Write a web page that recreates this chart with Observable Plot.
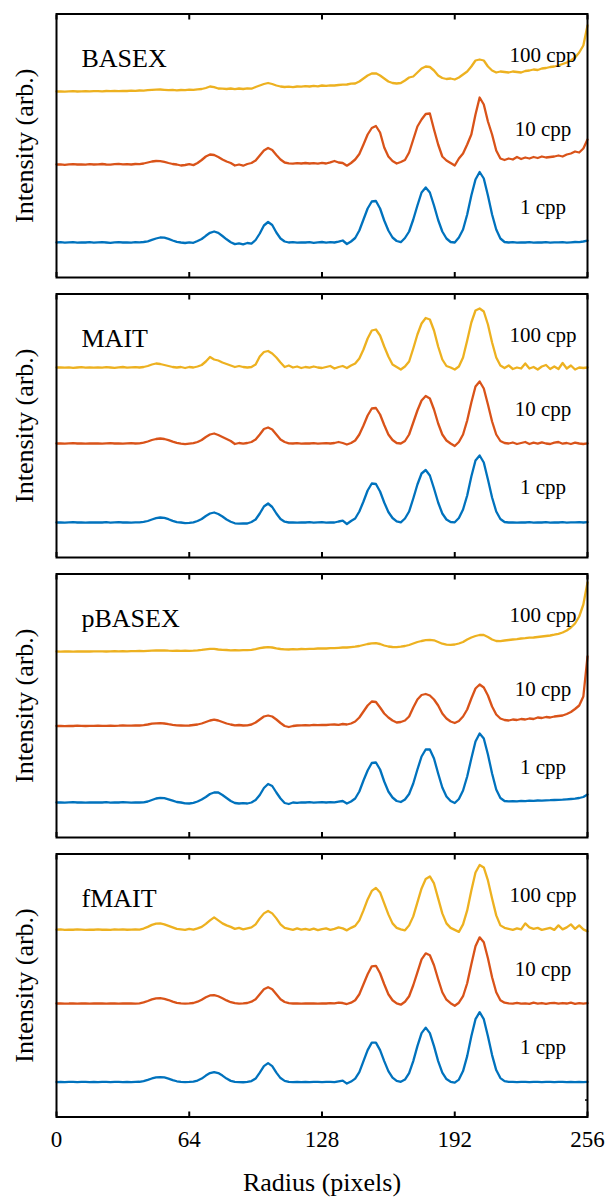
<!DOCTYPE html>
<html>
<head>
<meta charset="utf-8">
<script src="https://cdn.jsdelivr.net/npm/d3@7"></script>
<script src="https://cdn.jsdelivr.net/npm/@observablehq/plot@0.6"></script>
<style>
  html, body { margin: 0; padding: 0; background: #fff; }
  #chart { width: 608px; }
  #chart svg { display: block; }
</style>
</head>
<body>
<div id="chart"></div>
<script>
// ---------- data ----------
const methods = ["BASEX", "MAIT", "pBASEX", "fMAIT"];
const cppLabels = ["1 cpp", "10 cpp", "100 cpp"];
const seriesOffsets = [0, 78, 152];
const seriesColors = ["#0072BD", "#D95319", "#EDB120"];
const xTicks = [0, 64, 128, 192, 256];
const rightTicks = [-18];
const radius = d3.range(0, 257, 2); // sample radii 0..256

const basex1 = [
  0,0.3,-0.2,0.1,0.4,-0.1,0.2,0,0.3,-0.2,
  0.1,0.3,0,-0.3,0.2,0.4,0,0.1,-0.2,0.3,
  0.2,0.5,1.2,2.6,4,5,4.8,3.6,2,0.6,
  0,-0.5,0.2,-0.3,1.5,3.5,6.7,9.7,11,9.7,
  6.5,3.2,0.3,-1.6,-0.8,-1.8,-0.5,-1.2,2.5,9,
  17,20.5,17.5,10,4,1,0,0.3,-0.2,0.2,
  0,0.4,-0.3,0.2,0.5,-0.2,0.3,0,0.8,2,
  -1.5,1,4.5,12,23,34,41,41.5,34,22,
  12,5,1.5,0.3,4.5,11,23,37,50,55,
  50,37,22.5,11,4,0.5,0,5,13,28,
  47,63,70.5,64,47,28,13,4,0.5,0,
  0.3,-0.2,0.2,0,0.4,-0.1,0.2,0,0.3,-0.2,
  0.2,0.1,0.4,-0.1,0.2,0.5,0.3,1,1.8
];
const basex10 = [
  0,0.2,-0.3,0.1,0.4,0,0.2,-0.2,0.3,0,
  0.2,0.5,0,-0.2,0.3,0.6,0.1,0.4,0,0.5,
  0.4,1,2,3,3.5,3.3,2.6,1.5,0.5,0,
  -1,-0.5,0.3,-0.6,1.5,4.5,8,10,9.5,7.5,
  5,3,1.5,-1,0,-1.2,0.5,1.5,4,9,
  14,16.5,14.5,9.5,5,2,1.2,0.8,1.3,1,
  1.5,1,1.4,0.8,1.6,1,2.2,3.5,2,1.5,
  -1.2,1.5,5,10.5,20,30,36.5,38.5,32,17,
  8,3.5,1,2.5,4.5,12,25,38,45,50.5,
  51,35,20,8,4,1.5,-1,6,11,20,
  30,50,67,60,43,30,14,6,4.5,6,
  5,7.5,5.5,7,6,7.5,6.5,8,7,7.5,
  8,9,8,10,11,13,12,16,25
];
const basex100 = [
  -1,-0.8,-1.1,-0.9,-0.7,-1,-0.8,-0.6,-0.9,-0.7,
  -0.6,-0.8,-0.5,-0.7,-0.4,-0.6,-0.3,-0.5,-0.2,-0.3,
  0,-0.2,0.3,0.6,0.8,1,0.7,0.4,0.6,0.2,
  0.5,0.3,0.8,0.6,1.2,1.5,2.5,4,3.3,2,
  1.8,1.5,2,1.4,2,1.5,2.2,1.8,3.5,5,
  6.5,7.5,6.5,5,4,3.5,3.8,3.4,4,3.8,
  4.4,4,4.6,4.2,5,4.6,5.2,5,5.5,5.8,
  6,6.8,7,9,12,15,17,17.2,15,12,
  9,7.5,7,7.5,10,13,14,18,22,24,
  23.5,20,15,12.5,11.5,12,11,13,16,19,
  24,30,31,30,24,20,18,19,18.5,18,
  19,18.5,18,19.5,20,21,20.5,22,22.5,23.5,
  24,25,26.5,28,30,33,38,45,65
];

const mait1 = [
  0,0.2,-0.1,0.1,0.3,0,0.2,-0.2,0.1,0,
  0.2,0,0.3,-0.1,0.1,0.3,0,0.2,-0.1,0.2,
  0.1,0.6,1.5,3,4.3,5,4.6,3.3,1.6,0.4,
  0,-0.6,-0.3,0.2,1.5,3.5,6.5,9,10,8.5,
  6,3,0.8,-0.8,-1.2,-0.8,-1,0.5,3,9,
  16,19,15.5,9,3.5,0.8,0,0.2,-0.1,0.2,
  0,0.3,-0.2,0.1,0.3,-0.1,0.2,0,1,1.8,
  -1.5,1.5,4,11,21,32,39,38.5,31,20,
  10.5,4.5,1.2,0.2,4,11,24,38,49,52.5,
  47,34,20,9,3,0.5,0.2,4.5,13,27,
  46,62,67,60,43,25,11,3.5,0.5,0,
  0.2,-0.1,0.2,0,0.3,-0.1,0.2,0,0.3,-0.1,
  0.2,0,0.3,-0.1,0.2,0.1,0.3,0,0.4
];
const mait10 = [
  1,1.2,0.9,1.1,1.3,1,1.2,0.8,1.1,1,
  1.2,0.9,1.1,1.3,1,1.2,0.9,1.1,1.3,1,
  1.2,1.8,3,4.5,5.5,6,5.5,4.3,2.8,1.6,
  0.8,0.3,0.8,1.3,2.5,4.5,7.5,10,11,9.5,
  7.5,5.5,3.5,0.5,1.5,0.8,1.5,2.5,5,10,
  15.5,17,15,10,5,2.5,1.2,1,1.3,0.9,
  1.2,1,1.3,0.8,1.1,1.3,1,1.5,2.5,1.5,
  0,1.5,4,10,19,29,36,36.5,30,19.5,
  10,4.5,1.5,1,3.5,10,22,34,44,48.5,
  46,35,21,10,4,1,-1.5,2.5,10,24,
  42,58,63,56,40,23,10,3.5,1.5,1,
  2,0.5,1.5,2.5,0.5,1.8,0.8,2.2,1,0.5,
  1.8,2.5,0.8,1.5,0.5,1.8,1,0.5,1.2
];
const mait100 = [
  3,3.2,2.8,3.1,2.7,3,3.3,2.9,3.1,2.8,
  3.2,2.9,3.3,3,2.7,3.2,3.5,2.8,3.1,3.4,
  3,3.5,4.5,6,7,6.5,5.5,4.5,3.5,3,
  3.5,2.5,3.5,3,4,5.5,9,13.5,11,10,
  8,6.5,5,3.5,4.5,3.5,3,3.5,6,14,
  18.5,19.5,17,13,8,3.5,5,3,4,2.5,
  3.5,2.8,4,3,2.5,3.5,4.5,2,3.5,4.5,
  2.5,5,7,12,21,32,40,41,35,24,
  14,6,3.5,1,4,9,22,36,47,52.5,
  51,40,24,11,4.5,3,1,4,13,30,
  48,60,62,59,46,28,13,5,2.5,5,
  1.5,3,2,7,2,3.5,1,4,5.5,1.5,
  4,1.5,7.5,2,5,1,3,2.5,3
];

const pbasex1 = [
  0,0.2,-0.1,0.1,0.3,0,0.2,-0.1,0.1,0,
  0.2,0,0.3,-0.1,0.2,0,0.3,0.1,-0.2,0.1,
  0,0.2,1,2.5,4,4.7,4.3,3.2,1.8,0.5,
  0,-0.8,-1,-0.3,1,3,5.5,8.5,10,10,
  7.5,4.5,1.5,-0.5,-1,-0.6,-1,0,2.5,7.5,
  14.5,18.5,16.5,10,4,-0.5,-1.5,0,-0.3,0.2,
  0,0.3,-0.1,0.2,0.4,0,0.3,0.1,0.8,1.5,
  -1,1,4,11,22,32,39.5,40,33,21,
  11,5,1.5,0.5,3,8.5,19,33,46,53,
  53,44,29,15,6,1.5,-0.5,3.5,12,26,
  44,61,69,64,48,29,13,4.5,1.5,1.2,
  1.4,1.2,1.6,1.4,1.8,1.6,2,1.8,2.2,2.3,
  2.5,2.7,2.8,3.2,3.5,3.8,4.5,5.5,8
];
const pbasex10 = [
  -1.5,-1.3,-1.6,-1.4,-1.5,-1.2,-1.4,-1.5,-1.3,-1.4,
  -1.2,-1.4,-1.3,-1.1,-1.3,-1.2,-1,-1.2,-1.1,-0.9,
  -1,-0.6,0,0.8,1.2,1.3,1,0.3,-0.3,-0.8,
  -1,-1.2,-1,-0.5,0,1,2.5,4,4.8,4,
  2.5,1,0,-0.8,-0.5,-1,-0.8,0,2,5,
  8,9,8,5,1.5,-1.5,-2.5,-1.5,-1,-0.8,
  -0.6,-0.8,-0.4,-0.6,-0.3,-0.5,-0.2,0,-0.3,0.5,
  0,1,3,7,13,19,23,22.5,17,11,
  7,4,2,2.5,4,8,17,25,29.5,30.5,
  29,25,19,11,6,3,1.5,3.5,8,15,
  26,36,40,37,29,18,10,6,4.5,4,
  5,4.5,5.5,5,6,5.5,7,6.5,7.5,7,
  8,8.5,9,10.5,12.5,15.5,19,28,68
];
const pbasex100 = [
  -1,-1.1,-0.9,-1,-1.1,-0.9,-1,-0.9,-1,-0.8,
  -0.9,-0.8,-1,-0.8,-0.7,-0.9,-0.7,-0.8,-0.6,-0.7,
  -0.5,-0.6,-0.4,-0.2,0,0.2,0,-0.2,-0.3,-0.2,
  -0.4,-0.2,-0.3,-0.1,0.2,0.6,1.2,1.7,1.6,1,
  0.6,0.5,0.2,0.4,0.1,0.3,0.4,0.6,1.3,2.3,
  3,3.3,3,2.2,1.5,1.2,1,1.3,1.2,1.5,
  1.4,1.7,1.6,2,2.2,2,2.4,2.3,2.7,3,
  3,3.4,3.8,4.5,5.5,6.5,7.2,7.3,6.5,5,
  4,3.5,3.3,3.8,4.5,5.5,7,8.5,9.5,10.3,
  10.7,10.2,8.5,6.8,5.8,5.6,6,7,8.5,11,
  13,14.5,15.5,15.5,13.5,11,9.5,9.3,10,10.5,
  11,11.3,12,12.3,12.8,13,13.5,14,14.5,15,
  15.8,16.7,18,20,23,27,34,46,68
];

const fmait1 = [
  0,0.1,0,0.2,0.1,0,0.1,0.2,0,0.1,
  0,0.2,0.1,0,0.1,0.2,0,0.1,0,0.2,
  0.3,1,2.2,3.6,4.6,5,4.6,3.5,2,0.8,
  0.2,0,0.1,0.4,1.5,3.5,6.5,9,10,9,
  6.5,3.5,1.2,0.2,0,-0.2,0.2,1,3.5,9.5,
  16,19,16,9.5,4,1.2,0.2,0,0.1,0,
  0.1,0,0.2,0.1,0,0.1,0.2,0,0.8,1.5,
  -1.5,0.5,3.5,10,21,32,39.5,39.5,32,21,
  11,4.5,1.2,0.3,2.5,9,21,36,49,54.5,
  49,36,21,9.5,3,0.3,-0.5,2.5,11,26,
  46,63,70,63,46,27,12,4,1,0.2,
  0.1,0,0.2,0.1,0,0.2,0.1,0,0.1,0.2,
  0,0.1,0.2,0,0.1,-0.1,0.1,0,0.1
];
const fmait10 = [
  0.7,0.8,0.6,0.7,0.9,0.6,0.8,0.7,0.6,0.8,
  0.7,0.9,0.6,0.8,0.7,0.6,0.9,0.7,0.8,0.6,
  0.9,1.8,3.2,4.8,5.8,6,5.4,4.2,2.6,1.4,
  0.8,0.5,0.8,1.2,2.5,4.5,7,8.8,9.2,8,
  6,3.8,2,1,0.6,0.8,1.2,2.5,5,10,
  15,17,15,10,5,2.2,1,0.7,0.8,0.6,
  0.8,0.7,0.9,0.6,0.8,0.7,1,0.8,1.5,1.2,
  0.2,1.5,4,10,20,30,38,38.5,31,20,
  10,4,0.8,-0.5,2.5,8,19,32,45,51,
  49,39,25,12,4.5,1,-1.5,1.5,8,21,
  40,58,67,62,46,27,12,4,1.5,0.8,
  0.6,1.4,0.5,0.9,0.3,1.5,0.6,1.2,0.4,1,
  1.3,0.5,1.2,0.7,1.5,0.4,1.1,0.6,1
];
const fmait100 = [
  0.7,0.9,0.5,0.8,0.6,0.9,0.7,0.5,0.8,0.6,
  0.9,0.6,0.8,0.5,0.9,0.7,1,0.6,0.8,1,
  0.8,1.8,3.5,5.5,6.8,7,6,4.5,3,1.5,
  1,0.5,1.5,0.8,2,3.5,6.5,10,13,10,
  7,5,3.5,1.5,2.5,1,2,3,6,12,
  17,19.5,17,12,6,2.5,1.5,0.5,2,0.8,
  1.5,0.5,1.8,0.3,1.2,2,0.5,1.5,3,2,
  0,2.5,4.5,10,20,31,39.5,42.5,38,27,
  16,7,2.5,1,0,5,14,28,42,51.5,
  54,47,32,17,7,2.5,0.5,-1.5,6,20,
  40,58,65.5,63,50,32,15,5,2.5,1.5,
  0.5,2,1,7,3,1.5,2.5,0.5,1.5,2.5,
  0.5,5,1,3,6,1.5,5,1,-1
];

const panelSeries = [
  [basex1, basex10, basex100],
  [mait1, mait10, mait100],
  [pbasex1, pbasex10, pbasex100],
  [fmait1, fmait10, fmait100]
];

// ---------- drawing ----------
const font = "'Liberation Serif', 'Times New Roman', Times, serif";
const chart = document.getElementById("chart");

methods.forEach((name, p) => {
  const last = p === methods.length - 1;
  const rows = [];
  panelSeries[p].forEach((vals, s) => {
    vals.forEach((v, i) => rows.push({r: radius[i], v: v + seriesOffsets[s], series: cppLabels[s]}));
  });
  const labelRows = cppLabels.map((lab, s) => ({lab, y: seriesOffsets[s]}));

  const marks = [
    Plot.lineY(rows, {x: "r", y: "v", z: "series", stroke: "series", strokeWidth: 2.3, strokeLinejoin: "round", strokeLinecap: "round"}),
    Plot.frame({stroke: "black", strokeWidth: 2}),
    Plot.axisX({anchor: "top", ticks: xTicks, tickSize: -5, tickFormat: () => "", label: null, strokeWidth: 2}),
    Plot.axisX({anchor: "bottom", ticks: xTicks, tickSize: -5, tickFormat: () => "", label: null, strokeWidth: 2}),
    Plot.text([name], {frameAnchor: "top-left", dx: 25, dy: 35, textAnchor: "start", fontSize: 26, fill: "black", fontFamily: font}),
    Plot.text(labelRows, {frameAnchor: "right", y: "y", text: "lab", textAnchor: "middle", dx: -44.5, dy: -35, fontSize: 21, fill: "black", fontFamily: font}),
    Plot.text(["Intensity (arb.)"], {frameAnchor: "left", rotate: -90, textAnchor: "middle", dx: -31.5, fontSize: 26, fill: "black", fontFamily: font})
  ];
  if (last) {
    marks.push(Plot.axisX({anchor: "bottom", ticks: xTicks, tickSize: 0, tickPadding: 14, fontSize: 23, label: null, tickFormat: d => String(d), fontFamily: font}));
    marks.push(Plot.axisY({anchor: "right", ticks: rightTicks, tickSize: -3, tickFormat: () => "", label: null, strokeWidth: 1.5}));
    marks.push(Plot.text(["Radius (pixels)"], {frameAnchor: "bottom", dy: 74, fontSize: 26, fill: "black", fontFamily: font}));
  }

  const svg = Plot.plot({
    width: 608,
    height: last ? 357 : 280,
    marginLeft: 56,
    marginRight: 21,
    marginTop: 13.5,
    marginBottom: last ? 80.5 : 3,
    style: {fontFamily: font, background: "white", color: "black", overflow: "visible"},
    x: {domain: [0, 256], axis: null},
    y: {domain: [-35, 228.5], axis: null},
    color: {domain: cppLabels, range: seriesColors},
    marks
  });
  chart.appendChild(svg);
});
</script>
</body>
</html>
